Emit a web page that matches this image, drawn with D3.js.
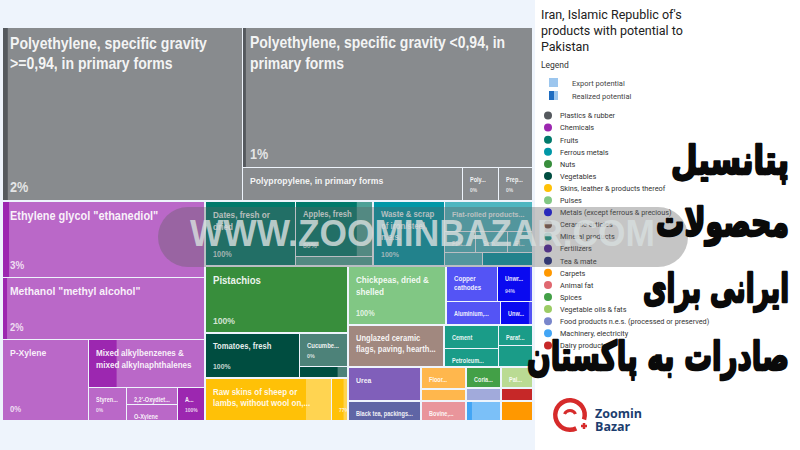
<!DOCTYPE html>
<html><head><meta charset="utf-8">
<script src="https://cdn.jsdelivr.net/npm/d3@7"></script>
<style>html,body{margin:0;padding:0;background:#fff;}svg{display:block}</style>
</head><body><svg id="chart" width="800" height="450"></svg>
<script>
// ---------------- DATA ----------------
const titleLines = ["Iran, Islamic Republic of's", "products with potential to", "Pakistan"];
const legendKinds = ["Export potential", "Realized potential"];
const sectorNames = ["Plastics & rubber","Chemicals","Fruits","Ferrous metals","Nuts","Vegetables",
  "Skins, leather & products thereof","Pulses","Metals (except ferrous & precious)","Ceramic articles",
  "Mineral products","Fertilizers","Tea & mate","Carpets","Animal fat","Spices","Vegetable oils & fats",
  "Food products n.e.s. (processed or preserved)","Machinery, electricity","Dairy products"];
const sectorColors = ["#55595e","#9c27b0","#00796b","#0097a7","#388e3c","#004d40","#ffc107","#81c784",
  "#0a0af0","#795548","#1a9c88","#4a1a9c","#1a237e","#ff9800","#e06870","#43a047","#9ccc65",
  "#7986cb","#42a5f5","#c62828"];
const productNames = [
  "Polyethylene, specific gravity >=0,94, in primary forms",
  "Polyethylene, specific gravity <0,94, in primary forms",
  "Polypropylene, in primary forms",
  "Polymers of ethylene, in primary forms",
  "Prepared binders for foundry moulds",
  "Ethylene glycol \"ethanediol\"",
  "Methanol \"methyl alcohol\"",
  "P-Xylene",
  "Mixed alkylbenzenes & mixed alkylnaphthalenes",
  "Styrene, in primary forms",
  "2,2'-Oxydiethanol \"diethylene glycol\"",
  "O-Xylene",
  "Anhydrous ammonia",
  "Dates, fresh or dried",
  "Apples, fresh",
  "",
  "Waste & scrap of iron/steel, n.e.s.",
  "Flat-rolled products of iron or non-alloy steel",
  "Flat-rolled products, coated",
  "Semi-finished products of iron",
  "Flat-rolled stainless steel",
  "", "",
  "Pistachios",
  "Tomatoes, fresh",
  "Cucumbers and gherkins, fresh",
  "",
  "Raw skins of sheep or lambs, without wool on, pickled",
  "",
  "Chickpeas, dried & shelled",
  "Copper cathodes",
  "Unwrought zinc",
  "Aluminium, unwrought",
  "Unwrought lead",
  "Unglazed ceramic flags, paving, hearth, wall tiles",
  "Cement",
  "Petroleum jelly",
  "Paraffin wax",
  "",
  "Urea",
  "Black tea, packings > 3 kg",
  "Floor coverings, knotted",
  "",
  "Bovine, sheep or goat fats",
  "Coriander seeds",
  "Food preparations n.e.s.",
  "",
  "Palm oil",
  "Lew...",
  ""
];
const productSectors = [0,0,0,0,0, 1,1,1,1,1,1,1,1, 2,2,2, 3,3,3,3,3,3,3, 4, 5,5,5, 6,6, 7,
  8,8,8,8, 9, 10,10,10,10, 11, 12, 13,13, 14, 15, 17, 18, 16, 19, 13];
const potential = [41280,40171,7227,1188,1122, 15352,12322,6966,5568,1254,867,816,891,
  5850,4368,702, 4615,2640,682,704,550,494,650, 9438, 4180,1584,528, 5461,688, 5626,
  1820,1225,1265,736, 3990, 1265,1045,680,748, 2376, 1440, 945,540, 900, 700, 455, 700, 640, 416, 640];
const realized = [0.02,0.01,0,0,0, 0.03,0.02,0,0.24,0,0,0,1,
  1,0.8,0, 1,0,0,0,0,0,1, 1, 1,0,0.8, 0.8,0.77, 1,
  0,0.94,0,0.9, 0, 1,1,1,1, 0, 0, 0,0, 0, 1, 0, 0.15, 0, 1, 1];
const watermarkText = "WWW.ZOOMINBAZAR.COM";
const persianLines = ["پتانسیل","محصولات","ایرانی برای","صادرات به پاکستان"];
const logoLines = ["Zoomin","Bazar"];

// ---------------- LAYOUT TREE (order of tiling) ----------------
const H = (...c) => ({dir:"H", children:c});
const V = (...c) => ({dir:"V", children:c});
const layoutTree = V(
  H(0, V(1, H(2,3,4))),
  H(
    V(5, 6, H(7, V(8, H(9, V(10,11), 12)))),
    V(
      H(H(13, V(14,15)), H(16, V(17, H(18,19,20), H(21,22)))),
      H(
        V(23, H(24, V(25,26)), H(27,28)),
        V(
          H(29, V(H(30,31), H(32,33))),
          H(34, H(V(35,36), V(37,38))),
          H(V(39,40), V(41,42,43), V(44,45,46), V(47,48,49))
        )
      )
    )
  )
);

const svg = d3.select("#chart");
svg.append("rect").attr("width",800).attr("height",450).attr("fill","#eef4fc");
svg.append("rect").attr("x",535).attr("width",265).attr("height",450).attr("fill","#ffffff");

const lighten = c => { const a = d3.rgb(c); return d3.rgb(a.r*0.7+76.5, a.g*0.7+76.5, a.b*0.7+76.5).formatHex(); };

const root = d3.hierarchy(layoutTree, d => d.children ? d.children.map(c => typeof c === "number" ? {index:c} : c) : null)
  .sum(d => d.index !== undefined ? potential[d.index] : 0);

const tile = (node, x0, y0, x1, y1) => (node.data.dir === "H" ? d3.treemapDice : d3.treemapSlice)(node, x0, y0, x1, y1);

d3.treemap().size([529, 392]).round(true).tile(tile)
  .paddingInner(n => new Set(n.leaves().map(l => productSectors[l.data.index])).size > 1 ? 2 : 1)(root);

const g = svg.append("g").attr("transform","translate(3,28)");
const defs = svg.append("defs");
const SX = 0.88;
const meas = svg.append("text").attr("font-family","Liberation Sans, Arial, sans-serif").attr("font-weight","bold").attr("visibility","hidden");
const measure = (s, fs) => { meas.attr("font-size", fs).text(s); return meas.node().getComputedTextLength() * SX; };
const fontScale = d3.scaleLinear().domain([35,49,78,97,124,203]).range([6.3,8,9.4,11,12.5,16]).clamp(true);

function fitLines(name, maxW, fs, maxLines) {
  const words = name.split(/\s+/);
  let lines = [], cur = "";
  for (const w of words) {
    const t = cur ? cur + " " + w : w;
    if (measure(t, fs) <= maxW || !cur) cur = t; else { lines.push(cur); cur = w; }
  }
  if (cur) lines.push(cur);
  let trunc = false;
  if (lines.length > maxLines) { lines = lines.slice(0, maxLines); trunc = true; }
  lines = lines.map((l, i) => {
    const last = i === lines.length - 1;
    if (measure(l, fs) <= maxW && !(last && trunc)) return l;
    let s = l;
    while (s.length > 1 && measure(s + "...", fs) > maxW) s = s.slice(0, -1);
    return s.replace(/\s+$/,"") + "...";
  });
  return lines;
}

root.leaves().forEach((d, k) => {
  const i = d.data.index, sc = sectorColors[productSectors[i]];
  const w = d.x1 - d.x0, h = d.y1 - d.y0;
  const cell = g.append("g");
  cell.append("rect").attr("x", d.x0).attr("y", d.y0).attr("width", w).attr("height", h).attr("fill", lighten(sc));
  cell.append("rect").attr("x", d.x0).attr("y", d.y0).attr("width", w * realized[i]).attr("height", h).attr("fill", sc);
  const cid = "clip" + k;
  defs.append("clipPath").attr("id", cid).append("rect").attr("x", d.x0).attr("y", d.y0).attr("width", w).attr("height", h);
  const lab = cell.append("g").attr("clip-path", `url(#${cid})`)
    .attr("font-family","Liberation Sans, Arial, sans-serif").attr("font-weight","bold");
  const fs = fontScale(Math.sqrt(w * h)), pad = 7;
  let lines = [];
  if (productNames[i] && w >= 18 && h >= 14) {
    const maxLines = h >= 60 ? 4 : (h >= 33 && w >= 45) ? 2 : 1;
    lines = fitLines(productNames[i], Math.max(4, w - 2 * pad), fs, maxLines);
    lines.forEach((l, j) => {
      lab.append("text").attr("transform", `translate(${d.x0 + pad},${d.y0 + 9 + 0.72 * fs + j * 1.3 * fs}) scale(${SX},1)`)
        .attr("font-size", fs).attr("fill", "#ffffff").attr("fill-opacity", 0.92).text(l);
    });
  }
  const pfs = fs * 0.9;
  if (w >= 12 && 9 + lines.length * 1.3 * fs + pfs + 8 <= h) {
    lab.append("text").attr("transform", `translate(${d.x0 + pad},${d.y1 - 8}) scale(${SX},1)`)
      .attr("font-size", pfs).attr("fill", "#ffffff").attr("fill-opacity", 0.78)
      .text(Math.round(realized[i] * 100) + "%");
  }
});

// ---------------- RIGHT PANEL ----------------
const panel = svg.append("g").attr("font-family","Roboto, sans-serif");
panel.selectAll("text.title").data(titleLines).join("text").attr("class","title")
  .attr("x",541).attr("y",(d,i)=>19+i*16).attr("font-size",12.5).attr("fill","#212121").text(d=>d);
panel.append("text").attr("x",541).attr("y",68).attr("font-size",8.5).attr("fill","#333").text("Legend");
panel.append("rect").attr("x",549).attr("y",78).attr("width",9).attr("height",9).attr("fill","#9cc6ee");
panel.append("rect").attr("x",549).attr("y",91).attr("width",9).attr("height",9).attr("fill","#9cc6ee");
panel.append("rect").attr("x",549).attr("y",91).attr("width",5).attr("height",9).attr("fill","#1e6cc0");
panel.selectAll("text.kind").data(legendKinds).join("text").attr("class","kind")
  .attr("x",572).attr("y",(d,i)=>86+i*12.5).attr("font-size",7.5).attr("fill","#444").text(d=>d);
const leg = panel.selectAll("g.leg").data(sectorNames).join("g").attr("class","leg")
  .attr("transform",(d,i)=>`translate(548,${115.5 + i*12.1})`);
leg.append("circle").attr("r",4).attr("fill",(d,i)=>sectorColors[i]);
leg.append("text").attr("x",12).attr("y",2.8).attr("font-size",7.3).attr("fill","#333").text(d=>d);

// ---------------- WATERMARK ----------------
svg.append("rect").attr("x",158).attr("y",207).attr("width",530).attr("height",60).attr("rx",30)
  .attr("fill","rgb(95,95,95)").attr("fill-opacity",0.36);
svg.append("text").attr("x",190).attr("y",246).attr("textLength",465).attr("lengthAdjust","spacingAndGlyphs")
  .attr("font-family","Liberation Sans, Arial, sans-serif").attr("font-weight","bold").attr("font-size",36)
  .attr("fill","rgb(215,222,222)").attr("fill-opacity",0.82).text(watermarkText);

const faY = [174, 236, 302, 370], faW = [118, 133, 146, 262];
svg.selectAll("text.fa").data(persianLines).join("text").attr("class","fa")
  .attr("x",789 - 0).attr("y",(d,i)=>faY[i]).attr("text-anchor","end")
  .attr("textLength",(d,i)=>faW[i]).attr("lengthAdjust","spacingAndGlyphs")
  .attr("font-family","DejaVu Sans, sans-serif").attr("font-weight","bold").attr("font-size",40)
  .attr("fill","#0a0a0a").attr("stroke","#0a0a0a").attr("stroke-width",2.4).attr("stroke-linejoin","round").text(d=>d);

const logo = svg.append("g").attr("transform","translate(570,415)");
logo.append("path").attr("d", d3.arc().innerRadius(12.5).outerRadius(17).startAngle(0.86*Math.PI).endAngle(2.6*Math.PI)()).attr("fill","#d62b2b");
logo.append("path").attr("d","M-5.5,-1 A6,6 0 0 1 5.5,-1").attr("fill","none").attr("stroke","#d62b2b").attr("stroke-width",3);
logo.append("path").attr("d","M11,11 L17,11 M14,8 L14,14").attr("stroke","#d62b2b").attr("stroke-width",2.5);
svg.selectAll("text.logo").data(logoLines).join("text").attr("class","logo")
  .attr("x",595).attr("y",(d,i)=>418+i*13).attr("font-family","Open Sans, sans-serif").attr("font-weight","bold")
  .attr("font-size",12.5).attr("fill","#1c3d6e").text(d=>d);
</script></body></html>
